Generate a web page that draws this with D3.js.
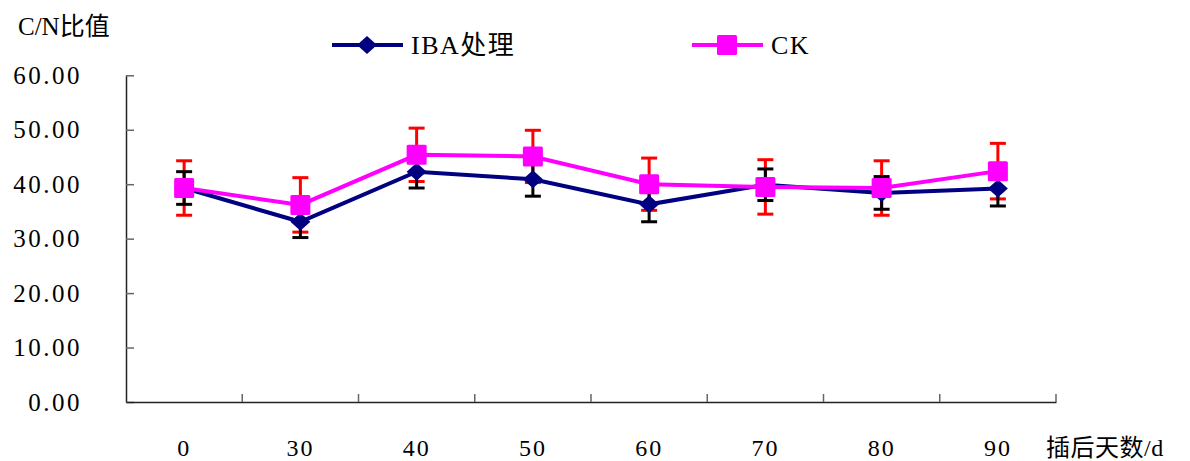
<!DOCTYPE html>
<html>
<head>
<meta charset="utf-8">
<script src="https://cdn.jsdelivr.net/npm/d3@7"></script>
<style>
  html, body { margin: 0; padding: 0; background: #fff; }
  svg { display: block; }
  text { font-family: "Liberation Serif", "Noto Sans CJK SC", serif; fill: #000; }
</style>
</head>
<body>
<svg id="chart" width="1190" height="461"></svg>
<script>
// Days after cutting
const categories = ["0", "30", "40", "50", "60", "70", "80", "90"];
// C/N ratio, IBA treatment
const ibaValues = [39.3, 33.1, 42.3, 40.9, 36.3, 39.9, 38.4, 39.2];
const ibaErrors = [3.0, 2.9, 3.0, 3.1, 3.2, 2.9, 3.0, 3.2];
// C/N ratio, control
const ckValues = [39.3, 36.2, 45.4, 45.1, 40.0, 39.5, 39.3, 42.4];
const ckErrors = [5.0, 5.0, 4.9, 4.8, 4.8, 5.0, 5.0, 5.1];
const yTicks = [0, 10, 20, 30, 40, 50, 60];
const seriesNames = ["IBA处理", "CK"];

const svg = d3.select("#chart");
const plotLeft = 126, plotRight = 1056, plotTop = 75.3, plotBottom = 402;

const x = d3.scaleBand().domain(categories).range([plotLeft, plotRight]);
const y = d3.scaleLinear().domain([0, 60]).range([plotBottom, plotTop]);
const cx = c => x(c) + x.bandwidth() / 2;

// Y axis: ticks point inward
const yAxis = svg.append("g")
  .attr("transform", `translate(${plotLeft},0)`)
  .call(d3.axisLeft(y).tickValues(yTicks).tickFormat(d3.format(".2f"))
    .tickSize(-8).tickSizeOuter(0).tickPadding(44));
yAxis.select(".domain").attr("stroke", "#222").attr("stroke-width", 1.5);
yAxis.selectAll(".tick line").attr("stroke", "#666").attr("stroke-width", 1.5);
yAxis.selectAll(".tick text").attr("font-size", 25).attr("letter-spacing", 2.5)
  .attr("font-family", "Liberation Serif, serif").attr("fill", "#000");

// X axis: labels centred on categories, ticks on category boundaries
const xAxis = svg.append("g")
  .attr("transform", `translate(0,${plotBottom})`)
  .call(d3.axisBottom(x).tickSize(0).tickSizeOuter(0).tickPadding(37));
xAxis.select(".domain").attr("stroke", "#222").attr("stroke-width", 1.5);
xAxis.selectAll(".tick text").attr("font-size", 24).attr("letter-spacing", 2)
  .attr("font-family", "Liberation Serif, serif").attr("fill", "#000")
  .attr("dy", null).attr("dominant-baseline", "hanging");

svg.append("g").selectAll("line").data(categories).join("line")
  .attr("x1", c => x(c) + x.bandwidth()).attr("x2", c => x(c) + x.bandwidth())
  .attr("y1", plotBottom).attr("y2", plotBottom - 8)
  .attr("stroke", "#666").attr("stroke-width", 1.5);

// Axis titles
svg.append("text").attr("x", 18).attr("y", 35).attr("font-size", 25)
  .text("C/N比值");
svg.append("text").attr("x", 1046).attr("y", 456).attr("font-size", 24)
  .attr("letter-spacing", 0.5).text("插后天数/d");

// Error bars
function errorBars(values, errors, color) {
  const g = svg.append("g").attr("stroke", color).attr("stroke-width", 3).attr("fill", "none");
  const rows = categories.map((c, i) => ({ c, v: values[i], e: errors[i] }));
  g.selectAll("line.v").data(rows).join("line").attr("class", "v")
    .attr("x1", d => cx(d.c)).attr("x2", d => cx(d.c))
    .attr("y1", d => y(d.v - d.e)).attr("y2", d => y(d.v + d.e));
  g.selectAll("line.t").data(rows).join("line").attr("class", "t")
    .attr("x1", d => cx(d.c) - 8).attr("x2", d => cx(d.c) + 8)
    .attr("y1", d => y(d.v + d.e)).attr("y2", d => y(d.v + d.e));
  g.selectAll("line.b").data(rows).join("line").attr("class", "b")
    .attr("x1", d => cx(d.c) - 8).attr("x2", d => cx(d.c) + 8)
    .attr("y1", d => y(d.v - d.e)).attr("y2", d => y(d.v - d.e));
}
errorBars(ckValues, ckErrors, "#FF0000");
errorBars(ibaValues, ibaErrors, "#000000");

const line = d3.line().x((d, i) => cx(categories[i])).y(d => y(d));
svg.append("path").datum(ibaValues).attr("d", line)
  .attr("fill", "none").attr("stroke", "#000080").attr("stroke-width", 4);
svg.append("path").datum(ckValues).attr("d", line)
  .attr("fill", "none").attr("stroke", "#FF00FF").attr("stroke-width", 4);

const diamond = "M0,-9L10,0L0,9L-10,0Z";
svg.append("g").selectAll("path").data(ibaValues).join("path")
  .attr("d", diamond)
  .attr("transform", (d, i) => `translate(${cx(categories[i])},${y(d)})`)
  .attr("fill", "#000080");
svg.append("g").selectAll("rect").data(ckValues).join("rect")
  .attr("x", (d, i) => cx(categories[i]) - 10).attr("y", d => y(d) - 10)
  .attr("width", 20).attr("height", 20).attr("rx", 1.5)
  .attr("fill", "#FF00FF");

// Legend
const legend = svg.append("g");
const legendItems = [
  { name: seriesNames[0], color: "#000080", x: 332, shape: "diamond" },
  { name: seriesNames[1], color: "#FF00FF", x: 692, shape: "square" }
];
legendItems.forEach(item => {
  const g = legend.append("g").attr("transform", `translate(${item.x},45)`);
  g.append("line").attr("x1", 0).attr("x2", 71).attr("y1", 0).attr("y2", 0)
    .attr("stroke", item.color).attr("stroke-width", 4);
  if (item.shape === "diamond") {
    g.append("path").attr("d", diamond).attr("transform", "translate(35,0)").attr("fill", item.color);
  } else {
    g.append("rect").attr("x", 25).attr("y", -10).attr("width", 20).attr("height", 20)
      .attr("rx", 1.5).attr("fill", item.color);
  }
  g.append("text").attr("x", 79).attr("y", 9).attr("font-size", 26)
    .attr("letter-spacing", 1.5).text(item.name);
});
</script>
</body>
</html>
